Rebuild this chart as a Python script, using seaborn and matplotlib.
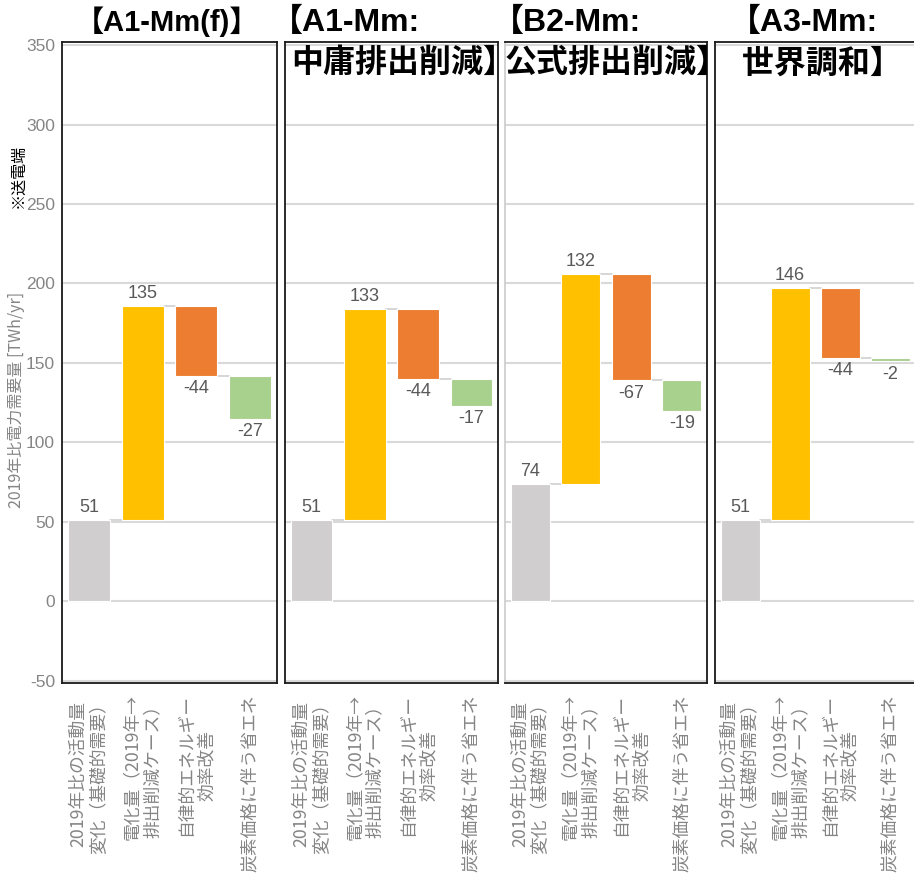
import numpy as np
import pandas as pd
import matplotlib
matplotlib.use("Agg")
import matplotlib.pyplot as plt
import seaborn as sns

# ---- data -------------------------------------------------------------
categories = [
    "2019年比の活動量\n変化（基礎的需要）",
    "電化量（2019年→\n排出削減ケース）",
    "自律的エネルギー\n効率改善",
    "炭素価格に伴う省エネ",
]
scenario_titles = [
    ["【A1-Mm(f)】"],
    ["【A1-Mm:", "中庸排出削減】"],
    ["【B2-Mm:", "公式排出削減】"],
    ["【A3-Mm:", " 世界調和】"],
]
values_a1f = [51, 135, -44, -27]
values_a1 = [51, 133, -44, -17]
values_b2 = [74, 132, -67, -19]
values_a3 = [51, 146, -44, -2]
scenario_values = [values_a1f, values_a1, values_b2, values_a3]

y_ticks = [-50, 0, 50, 100, 150, 200, 250, 300, 350]
y_label = "2019年比電力需要量 [TWh/yr]"
y_note = "※送電端"

bar_colors = ["#d0cece", "#ffc000", "#ed7d31", "#a9d18e"]

# ---- style ------------------------------------------------------------
sns.set_theme(style="white")
plt.rcParams["font.family"] = ["Noto Sans CJK JP", "DejaVu Sans"]

NARROW = ["Liberation Sans", "DejaVu Sans"]
TITLE_FONT = ["Liberation Sans", "Noto Sans CJK JP"]
GRID = "#d9d9d9"
TICK_GREY = "#858585"
LABEL_GREY = "#595959"

W, H = 914, 881
fig = plt.figure(figsize=(W / 100, H / 100), dpi=100)

# panel frames in pixels: (left, right)
panel_px = [(62, 277), (285, 498), (505, 707), (715, 915)]
top_px, bottom_px = 42, 683

BAR_W = 0.78

for k, ((l, r), vals) in enumerate(zip(panel_px, scenario_values)):
    ax = fig.add_axes([l / W, (H - bottom_px) / H, (r - l) / W, (bottom_px - top_px) / H])
    vals = np.array(vals, dtype=float)
    ends = np.cumsum(vals)
    starts = ends - vals

    df = pd.DataFrame({"項目": categories, "値": vals})
    sns.barplot(data=df, x="項目", y="値", order=categories, errorbar=None,
                width=BAR_W, bottom=starts, color=bar_colors[0],
                linewidth=0.8, edgecolor="white", ax=ax, zorder=3)
    for patch, c in zip(ax.patches, bar_colors):
        patch.set_facecolor(c)

    # connector lines between consecutive bars
    for i in range(len(vals) - 1):
        ax.plot([i + BAR_W / 2, i + 1 - BAR_W / 2], [ends[i], ends[i]],
                color="#d0d0d0", lw=1.2, zorder=2)

    # value labels
    for i, v in enumerate(vals):
        above = v >= 0
        ax.annotate(f"{int(v)}", (i, ends[i]), xytext=(0, 3 if above else -3),
                    textcoords="offset points", ha="center",
                    va="bottom" if above else "top",
                    fontsize=13, color=LABEL_GREY, family=NARROW)

    ax.set_ylim(-51.3, 351.9)
    ax.set_xlim(-0.5, 3.5)
    ax.set_yticks(y_ticks)
    for yv in y_ticks:
        ax.axhline(yv, color=GRID, lw=1.5, zorder=1)
    ax.grid(False)
    ax.set_xlabel("")
    ax.set_ylabel("")
    ax.tick_params(axis="both", length=0)
    ax.set_xticks(range(len(categories)))
    ax.set_xticklabels(categories, rotation=90, ha="center", va="top",
                       multialignment="center", fontsize=12.8, color=TICK_GREY)
    ax.tick_params(axis="x", pad=8)
    if k == 0:
        ax.set_yticklabels([str(t) for t in y_ticks], fontsize=12.5,
                           color=TICK_GREY, family=NARROW)
        ax.tick_params(axis="y", pad=5)
    else:
        ax.set_yticklabels([])

    for s in ax.spines.values():
        s.set_visible(True)
        s.set_color("#1a1a1a")
        s.set_linewidth(1.3)
    if k == 2:
        ax.spines["left"].set_color("#cfcfcf")

# panel titles
title_specs = [
    [(167 / W, 1 - 22 / H, "center", 21)],
    [(271 / W, 1 - 23 / H, "left", 23), (291 / W, 1 - 64 / H, "left", 23)],
    [(492 / W, 1 - 23 / H, "left", 23), (505 / W, 1 - 64 / H, "left", 23)],
    [(729 / W, 1 - 23 / H, "left", 23), (733 / W, 1 - 64 / H, "left", 23)],
]
for lines, specs in zip(scenario_titles, title_specs):
    for txt, (x, y, ha, fs) in zip(lines, specs):
        fig.text(x, y, txt, ha=ha, va="center", fontsize=fs,
                 fontweight="bold", color="black", family=TITLE_FONT)

# y axis label and note
fig.text(16 / W, 1 - 400 / H, y_label, rotation=90, ha="center", va="center",
         fontsize=11.5, color=TICK_GREY)
fig.text(18 / W, 1 - 176 / H, y_note, rotation=90, ha="center", va="center",
         fontsize=11.5, color="black")

fig.savefig("out.png", dpi=100)
